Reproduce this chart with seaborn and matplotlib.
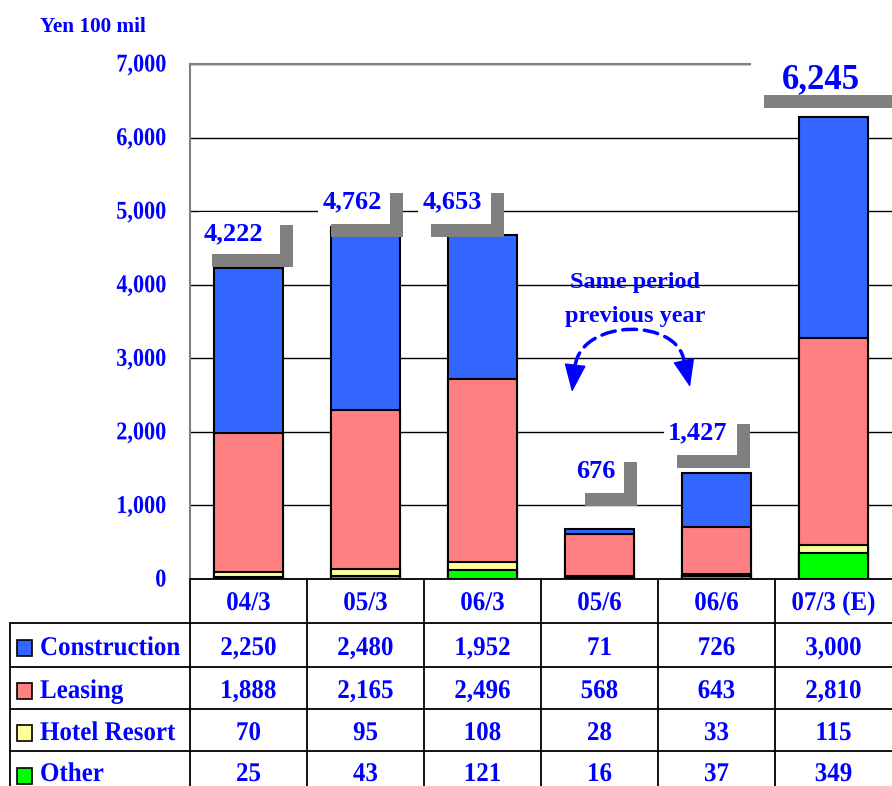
import numpy as np
import pandas as pd
import seaborn as sns
import matplotlib
matplotlib.use("Agg")
import matplotlib.pyplot as plt
import matplotlib.ticker as ticker
from matplotlib.patches import Rectangle, FancyArrowPatch
from matplotlib.path import Path
from matplotlib.patheffects import AbstractPathEffect
from matplotlib.transforms import ScaledTranslation, Affine2D

# Daten
categories = ["04/3", "05/3", "06/3", "05/6", "06/6", "07/3 (E)"]
construction = [2250, 2480, 1952, 71, 726, 3000]
leasing = [1888, 2165, 2496, 568, 643, 2810]
hotel_resort = [70, 95, 108, 28, 33, 115]
other = [25, 43, 121, 16, 37, 349]
totals = [4222, 4762, 4653, 676, 1427, 6245]
series_names = ["Construction", "Leasing", "Hotel Resort", "Other"]

sns.set_style("white")
plt.rcParams["font.family"] = ["Liberation Serif", "DejaVu Serif"]
plt.rcParams["font.weight"] = "bold"

BLUE = "#0000FF"
colors = ["#3366FF", "#FF8080", "#FFFF99", "#00FF00"]


class Stretch(AbstractPathEffect):
    # Schrift etwas in die Hoehe ziehen (Original wirkt gestaucht)
    def __init__(self, sy):
        super().__init__()
        self.sy = sy

    def draw_path(self, renderer, gc, tpath, affine, rgbFace=None):
        renderer.draw_path(gc, tpath, Affine2D().scale(1, self.sy) + affine, rgbFace)


df = pd.DataFrame({"Kategorie": categories, "Construction": construction,
                   "Leasing": leasing, "Hotel Resort": hotel_resort, "Other": other})

fig = plt.figure(figsize=(8.92, 7.86), dpi=100)
ax = fig.add_axes([190 / 892, 1 - 579 / 786, 702 / 892, 515 / 786])

# gestapelte Balken: kumulierte Summen von oben nach unten uebermalen
for i, name in enumerate(series_names):
    cum = df[series_names[i:]].sum(axis=1)
    sns.barplot(x=df["Kategorie"], y=cum, color=colors[i], saturation=1, width=0.59,
                edgecolor="black", linewidth=1.5, ax=ax, zorder=3)

ax.set_xlim(-0.5, 5.5)
ax.set_ylim(0, 7000)
ax.set(xlabel=None, ylabel=None)
ax.set_xticks([])
ax.yaxis.set_ticks(np.arange(0, 7001, 1000))
ax.yaxis.set_major_formatter(ticker.StrMethodFormatter("{x:,.0f}"))
ax.tick_params(axis="y", length=0, pad=17, labelsize=16, labelcolor=BLUE)
for t in ax.get_yticklabels():
    t.set_fontweight("bold")
    t.set_path_effects([Stretch(1.15)])
ax.yaxis.grid(True, color="black", linewidth=1)
ax.set_axisbelow(True)
ax.spines["right"].set_visible(False)
ax.spines["bottom"].set_visible(False)
ax.spines["left"].set_color("#808080")
ax.spines["left"].set_linewidth(1.5)
ax.spines["top"].set_color("#808080")
ax.spines["top"].set_linewidth(1.5)

fig.text(40 / 892, 1 - 32 / 786, "Yen 100 mil", fontsize=15.3, color=BLUE,
         fontweight="bold", va="baseline", ha="left")

# Summenlabels mit Schatten (Pixel relativ zur Balkenoberkante)
label_boxes = [(-49.5, 31.5, 13.6, 55.6), (-47.5, 24.5, 2.7, 46.7), (-64.5, 8.5, 10.9, 54.9),
               (-27.5, 24.5, 35.8, 79.8), (-52.5, 20.5, 18.1, 62.1), (-82.5, 70, 22.4, 62.4)]
label_text_pos = [(-15, 27.6), (-13.5, 18.7), (-30.5, 26.9), (-3.5, 50.8), (-18.5, 34.1),
                  (-12.5, 29.4)]
label_sizes = [19, 19, 19, 19, 19, 25]
tops = df[series_names].sum(axis=1)
for i, total in enumerate(totals):
    x0, x1, y0, y1 = label_boxes[i]
    trans = fig.dpi_scale_trans + ScaledTranslation(i, tops[i], ax.transData)
    ax.add_patch(Rectangle(((x0 + 13) / 100, (y0 - 13) / 100), (x1 - x0) / 100, (y1 - y0) / 100,
                           transform=trans, facecolor="#808080", edgecolor="none",
                           clip_on=False, zorder=6))
    ax.add_patch(Rectangle((x0 / 100, y0 / 100), (x1 - x0) / 100, (y1 - y0) / 100,
                           transform=trans, facecolor="white", edgecolor="none",
                           clip_on=False, zorder=7))
    tx, ty = label_text_pos[i]
    ax.text(tx / 100, ty / 100, f"{total:,}", transform=trans,
            ha="center", va="baseline", fontsize=label_sizes[i], color=BLUE,
            fontweight="bold", zorder=8, clip_on=False)

# Vorjahresvergleich
ax.text(3.303, 3955, "Same period", ha="center", va="baseline",
        fontsize=17.5, color=BLUE, fontweight="bold", zorder=8)
ax.text(3.303, 3493, "previous year", ha="center", va="baseline",
        fontsize=17.5, color=BLUE, fontweight="bold", zorder=8)
tip_l, base_l = (2.765, 2542), (2.791, 2895)
tip_r, base_r = (3.774, 2610), (3.722, 2963)
arc_path = Path([base_l, (2.850, 3548), (3.671, 3548), base_r],
                [Path.MOVETO, Path.CURVE4, Path.CURVE4, Path.CURVE4])
ax.add_patch(FancyArrowPatch(path=arc_path, arrowstyle="-", linestyle=(0, (4, 2.2)),
                             linewidth=2.5, color=BLUE, zorder=8))
# solide Pfeilspitzen an beiden Enden
for tip, base in [(tip_l, base_l), (tip_r, base_r)]:
    ax.annotate("", xy=tip, xytext=base, zorder=9,
                arrowprops=dict(arrowstyle="-|>,head_length=0.9,head_width=0.35",
                                mutation_scale=20, color=BLUE, lw=1,
                                shrinkA=0, shrinkB=0))

# Tabelle unter dem Diagramm
tax = fig.add_axes([0, 0, 1, 207 / 786])
tax.set_xlim(0, 892)
tax.set_ylim(786, 579)
tax.axis("off")

col_w = 702 / 6
row_edges = [579, 623, 667, 709, 751, 795]
for yy in row_edges[:5]:
    tax.plot([190 if yy == 579 else 10, 892], [yy, yy], color="black", lw=1.3, clip_on=False)
tax.plot([10, 10], [623, 795], color="black", lw=1.3)
for k in range(6):
    xx = 190 + k * col_w
    tax.plot([xx, xx], [579, 795], color="black", lw=1.3)

tab_fx = [Stretch(1.08)]
for k, cat in enumerate(categories):
    tax.text(190 + (k + 0.5) * col_w, 610, cat, ha="center", va="baseline",
             fontsize=18, color=BLUE, fontweight="bold", path_effects=tab_fx)

table_rows = [construction, leasing, hotel_resort, other]
for r, (name, vals) in enumerate(zip(series_names, table_rows)):
    yc = (row_edges[r + 1] + row_edges[r + 2]) / 2
    base = min(yc + 10, 781)
    tax.add_patch(Rectangle((17, yc + 2.5 - 8), 15, 16, facecolor=colors[r],
                            edgecolor="black", lw=1.2))
    tax.text(40, base, name, ha="left", va="baseline", fontsize=18, color=BLUE,
             fontweight="bold", path_effects=tab_fx)
    for k, v in enumerate(vals):
        tax.text(190 + (k + 0.5) * col_w, base, f"{v:,}", ha="center", va="baseline",
                 fontsize=18, color=BLUE, fontweight="bold", path_effects=tab_fx)

plt.savefig("out.png", dpi=100)
